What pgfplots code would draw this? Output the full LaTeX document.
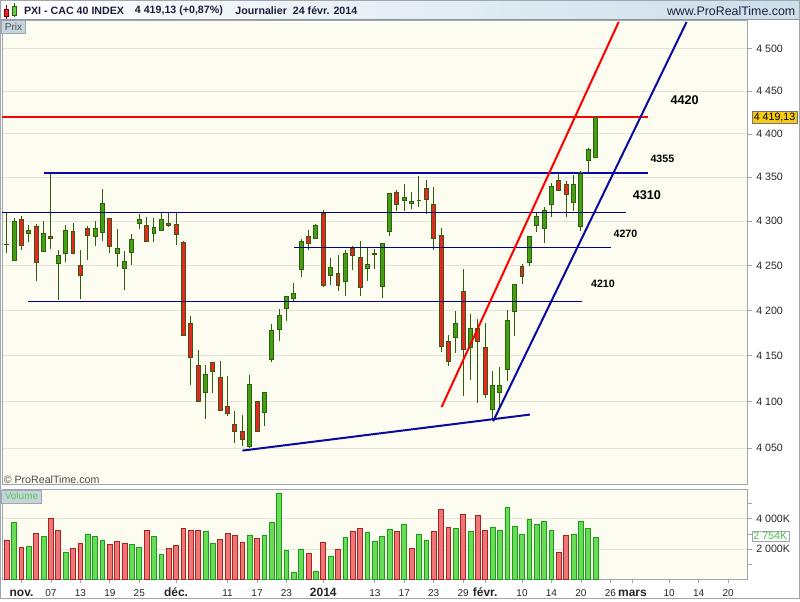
\documentclass[border=0pt]{standalone}
\usepackage{fontspec}
\setmainfont{Liberation Sans}
\usepackage{pgfplots}
\usepackage{pgfplotstable}
\pgfplotsset{compat=1.18}

\definecolor{bgc}{HTML}{FCFCF0}
\definecolor{gridc}{HTML}{E3E3D8}
\definecolor{wick}{HTML}{2E5E0E}
\definecolor{cgreen}{HTML}{42A012}
\definecolor{cred}{HTML}{EE2424}
\definecolor{vgreen}{HTML}{66DD55}
\definecolor{vgreenb}{HTML}{1E9A1E}
\definecolor{vred}{HTML}{EE7676}
\definecolor{vredb}{HTML}{A82222}
\definecolor{navyl}{HTML}{000088}
\definecolor{tblue}{HTML}{0A0AA0}
\definecolor{framec}{HTML}{9EA6AE}
\definecolor{gold}{HTML}{F7CB12}
\definecolor{boxc}{HTML}{C6D4DE}
\definecolor{hdrc}{HTML}{CBDEEA}
\definecolor{hdrt}{HTML}{1E1E3C}

\pgfplotstableread{
i o h l c
0 4273.5 4310.6 4264.0 4273.0
1 4255.9 4303.0 4254.8 4300.0
2 4302.0 4305.7 4267.0 4272.6
3 4285.9 4295.4 4275.9 4288.9
4 4294.0 4296.6 4232.6 4253.0
5 4265.9 4300.0 4264.8 4286.3
6 4283.0 4355.7 4269.0 4280.3
7 4252.0 4267.8 4212.0 4260.8
8 4263.7 4295.4 4253.7 4289.7
9 4288.6 4297.7 4263.0 4263.7
10 4249.7 4266.8 4213.0 4239.3
11 4292.0 4294.4 4256.7 4283.7
12 4282.6 4300.0 4271.4 4292.0
13 4287.0 4336.0 4277.0 4320.0
14 4303.0 4303.0 4264.0 4271.4
15 4263.0 4291.0 4248.0 4268.6
16 4246.3 4266.7 4222.5 4254.0
17 4264.8 4285.6 4250.3 4278.6
18 4297.0 4308.0 4291.0 4302.0
19 4295.0 4304.6 4277.0 4277.0
20 4286.3 4303.0 4276.0 4293.0
21 4289.7 4310.6 4289.7 4302.0
22 4297.4 4310.6 4293.6 4295.2
23 4296.3 4308.8 4272.6 4285.2
24 4276.3 4277.8 4171.4 4172.2
25 4185.2 4193.3 4118.6 4148.6
26 4138.8 4156.6 4099.5 4099.7
27 4110.0 4140.0 4081.0 4129.0
28 4142.0 4142.5 4109.5 4133.0
29 4125.8 4144.6 4090.5 4090.7
30 4094.3 4128.0 4084.0 4086.8
31 4075.0 4090.4 4055.8 4068.2
32 4067.6 4086.0 4052.0 4059.0
33 4051.5 4129.3 4050.4 4119.2
34 4099.7 4100.0 4068.0 4068.2
35 4088.5 4109.5 4073.5 4109.5
36 4146.4 4184.4 4142.7 4177.4
37 4178.5 4201.0 4165.9 4194.0
38 4201.9 4215.2 4188.0 4215.2
39 4213.0 4230.0 4210.3 4218.6
40 4245.9 4279.7 4237.0 4277.4
41 4282.0 4290.0 4267.0 4274.8
42 4280.8 4296.6 4280.8 4295.4
43 4308.8 4312.6 4226.3 4227.4
44 4239.2 4258.6 4228.0 4247.4
45 4240.8 4262.2 4221.4 4227.4
46 4232.6 4267.8 4215.9 4263.0
47 4268.9 4272.2 4244.8 4260.8
48 4258.6 4277.8 4215.9 4225.2
49 4247.0 4270.8 4232.6 4250.8
50 4262.6 4268.9 4245.6 4263.0
51 4225.9 4274.1 4213.7 4274.1
52 4288.0 4331.4 4282.6 4331.4
53 4332.8 4335.4 4311.4 4319.0
54 4323.7 4342.2 4311.4 4327.1
55 4320.3 4332.8 4313.4 4322.6
56 4323.4 4351.5 4316.3 4323.7
57 4337.3 4346.9 4307.6 4324.8
58 4319.0 4338.5 4267.5 4280.8
59 4283.6 4291.7 4153.6 4160.6
60 4165.2 4172.2 4138.4 4143.8
61 4170.3 4199.2 4152.9 4185.2
62 4220.8 4246.3 4105.8 4156.6
63 4159.6 4195.6 4123.9 4179.6
64 4180.2 4190.0 4098.6 4165.4
65 4159.6 4185.6 4104.0 4107.6
66 4091.4 4133.0 4080.7 4117.4
67 4110.5 4137.2 4094.9 4117.4
68 4134.8 4200.3 4122.0 4188.9
69 4198.6 4228.6 4171.4 4228.6
70 4248.6 4251.9 4229.7 4237.4
71 4253.0 4283.0 4249.2 4283.0
72 4295.1 4309.9 4287.5 4305.3
73 4291.7 4315.6 4275.4 4312.2
74 4319.0 4343.0 4304.2 4339.8
75 4346.6 4353.4 4334.6 4335.0
76 4342.0 4345.8 4304.2 4330.6
77 4321.4 4352.6 4311.8 4341.0
78 4294.0 4356.9 4289.0 4355.7
79 4369.6 4384.0 4354.6 4381.6
80 4373.2 4420.0 4373.0 4419.1
}\candles

\pgfplotstableread{
i v u
0 2552 0
1 3740 1
2 2090 0
3 2156 1
4 3014 0
5 2816 1
6 4004 0
7 3212 0
8 1760 1
9 2024 0
10 2354 0
11 2948 1
12 2816 1
13 2552 1
14 2288 0
15 2486 0
16 2354 0
17 2288 1
18 2090 1
19 3212 0
20 2816 1
21 1628 1
22 2024 0
23 2222 0
24 3344 0
25 3212 0
26 3212 0
27 3146 1
28 2354 1
29 2618 0
30 3014 0
31 2882 0
32 2420 0
33 2882 1
34 2684 0
35 2882 1
36 3740 1
37 5654 1
38 1892 1
39 440 1
40 1958 1
41 1694 0
42 506 1
43 2420 0
44 1496 1
45 1958 0
46 2750 1
47 3146 0
48 3344 0
49 3080 1
50 2486 1
51 2816 1
52 3278 1
53 3146 0
54 3608 1
55 2024 0
56 2948 1
57 2552 1
58 3146 0
59 4598 0
60 3410 0
61 3344 1
62 4268 0
63 3146 1
64 4202 0
65 3212 0
66 3410 1
67 3212 1
68 4730 1
69 3476 1
70 2948 1
71 3938 1
72 3608 1
73 3806 1
74 3212 1
75 1760 0
76 2882 0
77 2948 1
78 3806 1
79 3344 1
80 2754 1
}\vol

\newcommand{\mb}[1]{{\fontsize{9}{10}\selectfont\bfseries #1}}

\begin{document}
\begin{tikzpicture}
\begin{scope}[x=0.75pt,y=-0.75pt]
\fill[white] (0,0) rectangle (800,600);
\shade[left color=white, right color=hdrc] (0,0) rectangle (800,19.5);
\draw[framec!90!black, line width=0.75pt] (0,19.5) -- (800,19.5);
\end{scope}

% ---------------- price panel (log-like scale via coord trafo) ----------------
\begin{axis}[
  at={(1.5pt,-363.75pt)}, anchor=south west,
  scale only axis, width=559.5pt, height=348.75pt,
  y coord trafo/.code={\pgfmathparse{1000*ln(#1/4000)}},
  y coord inv trafo/.code={\pgfmathparse{4000*exp(#1/1000)}},
  xmin=-0.58, xmax=100.64,
  ymin=4011.5, ymax=4534,
  xtick=\empty,
  ytick={4050,4100,4150,4200,4250,4300,4350,4400,4450,4500},
  yticklabels={4 050,4 100,4 150,4 200,4 250,4 300,4 350,4 400,4 450,4 500},
  ytick pos=right, yticklabel pos=right,
  tick align=outside, major tick length=3pt,
  ymajorgrids, grid style={gridc, line width=0.75pt},
  axis line style={framec},
  tick style={framec, line width=0.5pt},
  yticklabel style={font=\fontsize{8}{9}\selectfont, text=black!85},
  axis background/.style={fill=bgc},
  clip=false,
]
% candles: wick, body outline, body fill with caps
\pgfplotsinvokeforeach{0,...,80}{
  \pgfplotstablegetelem{#1}{o}\of\candles \let\Oo\pgfplotsretval
  \pgfplotstablegetelem{#1}{h}\of\candles \let\Hh\pgfplotsretval
  \pgfplotstablegetelem{#1}{l}\of\candles \let\Ll\pgfplotsretval
  \pgfplotstablegetelem{#1}{c}\of\candles \let\Cc\pgfplotsretval
  \pgfmathparse{\Cc>=\Oo ? 1 : 0}
  \ifdim\pgfmathresult pt>0.5pt \def\bcol{cgreen}\else\def\bcol{cred}\fi
  \edef\cmd{%
    \noexpand\addplot[draw=wick, line width=0.75pt, mark=none] coordinates {(#1,\Ll) (#1,\Hh)};
    \noexpand\addplot[draw=wick, line width=3.7pt, mark=none] coordinates {(#1,\Oo) (#1,\Cc)};
    \noexpand\addplot[draw=\bcol, line width=2.2pt, mark=-, mark size=1.85pt,
       mark options={solid, draw=wick, line width=0.75pt}] coordinates {(#1,\Oo) (#1,\Cc)};
  }%
  \cmd
}

% horizontal levels
\addplot[red, line width=1.5pt] coordinates {(-0.58,4420) (87.07,4420)};
\addplot[tblue, line width=1.6pt] coordinates {(5.02,4355) (87.07,4355)};
\addplot[navyl, line width=0.75pt] coordinates {(-0.58,4310) (84.18,4310)};
\addplot[navyl, line width=0.75pt] coordinates {(39.08,4270) (82.14,4270)};
\addplot[navyl, line width=0.75pt] coordinates {(2.94,4210) (78.21,4210)};
% trend lines
\addplot[red, line width=1.5pt] coordinates {(59.08,4094.3) (83.13,4531.7)};
\addplot[tblue, line width=1.5pt] coordinates {(66.08,4078.9) (92.36,4531.7)};
\addplot[tblue, line width=1.5pt] coordinates {(32.02,4047.5) (71.06,4086.1)};

\node[font=\fontsize{9.5}{10}\selectfont\bfseries] at (axis cs:92.09,4438.7) {4420};
\node[font=\fontsize{8}{9}\selectfont\bfseries] at (axis cs:89.07,4370.8) {4355};
\node[font=\fontsize{9.5}{10}\selectfont\bfseries] at (axis cs:86.97,4329.0) {4310};
\node[font=\fontsize{8}{9}\selectfont\bfseries] at (axis cs:84.05,4285.3) {4270};
\node[font=\fontsize{8}{9}\selectfont\bfseries] at (axis cs:81.0,4229.5) {4210};

\node[anchor=west, fill=gold, draw=framec!70!black, inner sep=1.2pt, xshift=3.3pt,
  font=\fontsize{8}{9}\selectfont] at (axis cs:100.64,4419.13) {4 419,13};
\end{axis}

% ---------------- volume panel ----------------
\begin{axis}[
  at={(1.5pt,-435pt)}, anchor=south west,
  scale only axis, width=559.5pt, height=67.5pt,
  xmin=-0.58, xmax=100.64, ymin=0, ymax=5940,
  xtick={2,6,10,14,18,23,30,34,38,43,50,54,58,62,65,70,74,78,82,85,90,94,98},
  xticklabels={\mb{nov.},07,13,19,25,\mb{déc.},11,17,23,\mb{2014},13,17,23,29,\mb{févr.},10,14,20,26,\mb{mars},10,14,20},
  ytick={2000,4000}, yticklabels={2 000K,4 000K},
  extra y ticks={1000,3000,5000}, extra y tick labels={},
  extra y tick style={grid=none},
  xtick pos=left, ytick pos=right, yticklabel pos=right,
  tick align=outside, major tick length=3pt,
  ymajorgrids, grid style={gridc, line width=0.75pt},
  axis line style={framec}, tick style={framec, line width=0.5pt},
  yticklabel style={font=\fontsize{8}{9}\selectfont, text=black!85},
  xticklabel style={font=\fontsize{7.5}{9}\selectfont, text=black!85, text height=6.5pt, text depth=0pt},
  axis background/.style={fill=bgc},
  clip=false,
]
\addplot[ybar, bar width=3.6pt, bar shift=0pt, fill=vgreen, draw=vgreenb, line width=0.6pt,
  restrict expr to domain={\thisrow{u}}{0.5:1.5}] table[x=i, y=v] {\vol};
\addplot[ybar, bar width=3.6pt, bar shift=0pt, fill=vred, draw=vredb, line width=0.6pt,
  restrict expr to domain={\thisrow{u}}{-0.5:0.5}] table[x=i, y=v] {\vol};
\node[anchor=west, fill=white!90!boxc, draw=framec, inner sep=1.2pt, xshift=3pt,
  text=vgreen!85!black, font=\fontsize{8}{9}\selectfont] at (axis cs:100.64,2840) {2 754K};
\end{axis}

% ---------------- decorations ----------------
\begin{scope}[x=0.75pt,y=-0.75pt]
\draw[red!50!black, line width=0.6pt] (5.5,5) -- (5.5,19);
\filldraw[fill=cred, draw=red!50!black, line width=0.6pt] (3.5,9.5) rectangle (7.5,16.5);
\draw[wick, line width=0.6pt] (13.5,3) -- (13.5,17.5);
\filldraw[fill=vgreen!80!cgreen, draw=wick, line width=0.6pt] (11.5,6) rectangle (15.5,15.5);
\node[anchor=west, font=\fontsize{8}{9}\selectfont\bfseries, text=hdrt, inner sep=0] at (23.3,11) {PXI - CAC 40 INDEX};
\node[anchor=west, font=\fontsize{8}{9}\selectfont\bfseries, text=hdrt, inner sep=0] at (134.3,11) {4 419,13 (+0,87\%)};
\node[anchor=west, font=\fontsize{8}{9}\selectfont\bfseries, text=hdrt, inner sep=0] at (235,11) {Journalier\ \ 24 févr. 2014};
\node[anchor=east, font=\fontsize{9.3}{10}\selectfont, text=hdrt, inner sep=0] at (796,11) {www.ProRealTime.com};
\filldraw[fill=boxc, draw=framec] (1,20.5) rectangle (25,33.5);
\node[font=\fontsize{7.5}{8}\selectfont, text=black!70, inner sep=0] at (13,27) {Prix};
\filldraw[fill=boxc, draw=framec] (1,490.5) rectangle (41,503.5);
\node[font=\fontsize{7.5}{8}\selectfont, text=vgreen!90!black, inner sep=0] at (21,497) {Volume};
\node[anchor=west, font=\fontsize{8}{9}\selectfont, text=black!70, inner sep=0] at (3,480) {© ProRealTime.com};
\draw[framec, line width=0.75pt] (0.5,0.5) rectangle (799.5,599.5);
\end{scope}
\end{tikzpicture}
\end{document}
